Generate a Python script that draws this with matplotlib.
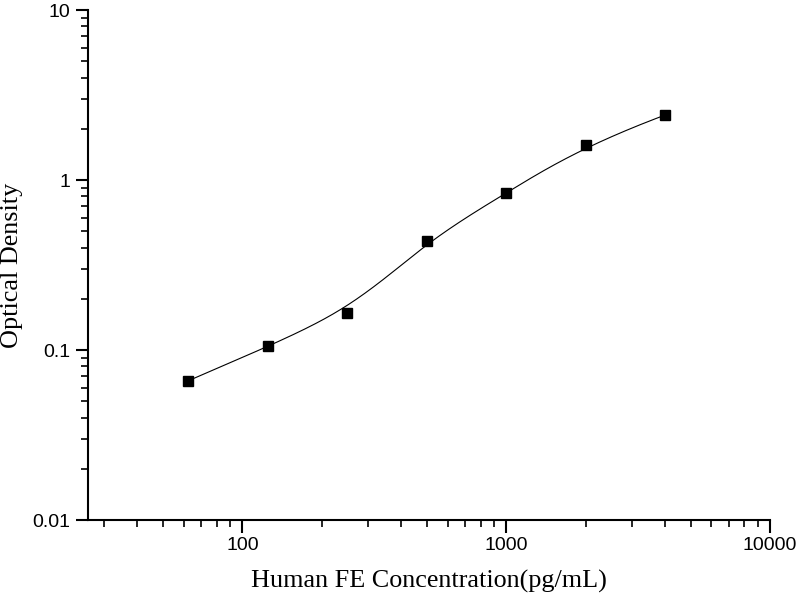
import numpy as np
import matplotlib
matplotlib.use("Agg")
import matplotlib.pyplot as plt
from matplotlib.ticker import LogLocator, NullFormatter, FixedLocator, FixedFormatter

conc = [62.5, 125, 250, 500, 1000, 2000, 4000]
od = [0.066, 0.105, 0.165, 0.437, 0.839, 1.61, 2.41]
xticks = [100, 1000, 10000]
xticklabels = ["100", "1000", "10000"]
yticks = [0.01, 0.1, 1, 10]
yticklabels = ["0.01", "0.1", "1", "10"]


def bspline(ctrl, deg=3, num=400):
    """Clamped uniform B-spline using the data points as control points."""
    ctrl = np.asarray(ctrl, float)
    n = len(ctrl)
    inner = np.arange(1, n - deg)
    knots = np.concatenate([np.zeros(deg + 1), inner, np.full(deg + 1, n - deg)])
    ts = np.linspace(0, n - deg, num)

    def N(i, k, t):
        if k == 0:
            if knots[i] <= t < knots[i + 1] or (t == knots[-1] and knots[i] < t <= knots[i + 1]):
                return 1.0
            return 0.0
        a = 0.0
        d1 = knots[i + k] - knots[i]
        if d1 > 0:
            a += (t - knots[i]) / d1 * N(i, k - 1, t)
        d2 = knots[i + k + 1] - knots[i + 1]
        if d2 > 0:
            a += (knots[i + k + 1] - t) / d2 * N(i + 1, k - 1, t)
        return a

    out = np.array([sum(N(i, deg, t) * ctrl[i] for i in range(n)) for t in ts])
    return out


fig = plt.figure(figsize=(8, 6), dpi=100)
ax = fig.add_axes([0.11, 0.1333, 0.8525, 0.85])

pts = np.column_stack([np.log10(conc), np.log10(od)])
curve = bspline(pts)
ax.plot(10**curve[:, 0], 10**curve[:, 1], color="black", lw=0.8)
ax.plot(conc, od, "s", color="black", ms=7.5)

ax.set_xscale("log")
ax.set_yscale("log")
ax.set_xlim(26, 10000)
ax.set_ylim(0.01, 10)

for s in ["top", "right"]:
    ax.spines[s].set_visible(False)
for s in ["left", "bottom"]:
    ax.spines[s].set_linewidth(1.5)

ax.xaxis.set_major_locator(FixedLocator(xticks))
ax.xaxis.set_major_formatter(FixedFormatter(xticklabels))
ax.yaxis.set_major_locator(FixedLocator(yticks))
ax.yaxis.set_major_formatter(FixedFormatter(yticklabels))
ax.xaxis.set_minor_locator(LogLocator(base=10, subs=np.arange(2, 10)))
ax.yaxis.set_minor_locator(LogLocator(base=10, subs=np.arange(2, 10)))
ax.xaxis.set_minor_formatter(NullFormatter())
ax.yaxis.set_minor_formatter(NullFormatter())
ax.tick_params(which="major", direction="out", length=9, width=1.5, labelsize=14)
ax.tick_params(which="minor", direction="out", length=5, width=1.2)
for lab in ax.get_xticklabels() + ax.get_yticklabels():
    lab.set_fontfamily("Liberation Sans")

ax.set_xlabel("Human FE Concentration(pg/mL)", fontfamily="Liberation Serif", fontsize=18.8, labelpad=11)
ax.set_ylabel("Optical Density", fontfamily="Liberation Serif", fontsize=18.8, labelpad=7)

fig.savefig("out.png", dpi=100)
